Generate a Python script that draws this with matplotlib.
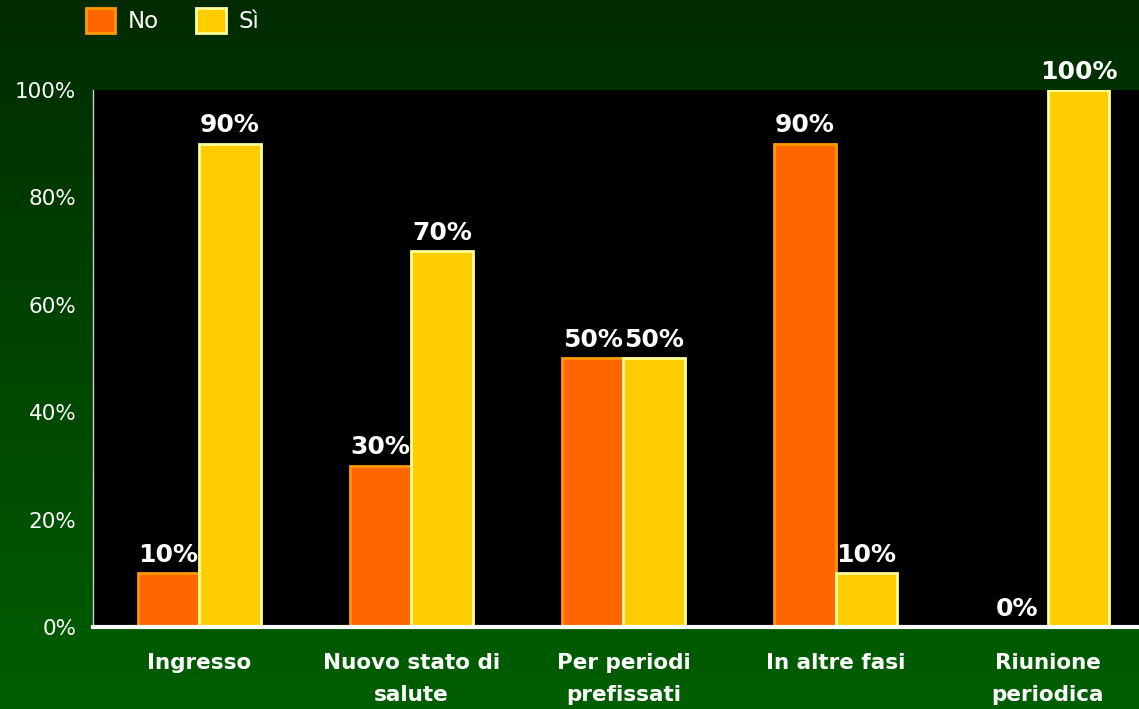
import numpy as np
import matplotlib.pyplot as plt

categories = ['Ingresso', 'Nuovo stato di\nsalute', 'Per periodi\nprefissati', 'In altre fasi', 'Riunione\nperiodica']
no_vals = [10, 30, 50, 90, 0]
si_vals = [90, 70, 50, 10, 100]
yticks = [0, 20, 40, 60, 80, 100]

fig = plt.figure(figsize=(11.39, 7.09), dpi=100)

# green gradient background
bg = fig.add_axes([0, 0, 1, 1], zorder=-10)
grad = np.linspace(0, 1, 256).reshape(-1, 1)
top = np.array([0.0, 0.17, 0.0])
bot = np.array([0.0, 0.37, 0.0])
img = top + (bot - top) * grad[:, :, None]
bg.imshow(img, aspect='auto', extent=[0, 1, 0, 1])
bg.axis('off')

ax = fig.add_axes([93 / 1139, 82 / 709, 1 - 93 / 1139, (627 - 90) / 709])
ax.set_facecolor('black')

x = np.arange(len(categories))
w = 0.29
b1 = ax.bar(x - w / 2, no_vals, w, color='#FF6600', edgecolor='#FF9900', linewidth=2, label='No')
b2 = ax.bar(x + w / 2, si_vals, w, color='#FFCC00', edgecolor='#FFFF99', linewidth=2, label='Sì')

for bars, vals in [(b1, no_vals), (b2, si_vals)]:
    for r, v in zip(bars, vals):
        ax.text(r.get_x() + r.get_width() / 2, v + 1.2, f'{v}%', ha='center', va='bottom',
                color='white', fontsize=18, fontweight='bold', clip_on=False)

ax.set_xlim(-0.5, 4.43)
ax.set_ylim(0, 100)
ax.set_yticks(yticks)
ax.set_yticklabels([f'{t}%' for t in yticks], color='white', fontsize=15.5)
ax.set_xticks(x)
ax.set_xticklabels(categories, color='white', fontsize=15.5, fontweight='bold', linespacing=1.7)
ax.tick_params(axis='y', length=0, pad=12)
ax.tick_params(axis='x', length=0, pad=19)

for s in ['top', 'right']:
    ax.spines[s].set_visible(False)
ax.spines['left'].set_color('#cccccc')
ax.spines['left'].set_linewidth(1)
ax.spines['bottom'].set_color('white')
ax.spines['bottom'].set_linewidth(3)

fig.legend(handles=[b1, b2], labels=['No', 'Sì'], loc='upper left', bbox_to_anchor=(0.057, 1.018),
           ncol=2, frameon=False, fontsize=16.5, labelcolor='white', handlelength=1.3,
           handleheight=1.3, columnspacing=1.6, handletextpad=0.55)

fig.savefig('out.png', dpi=100)
